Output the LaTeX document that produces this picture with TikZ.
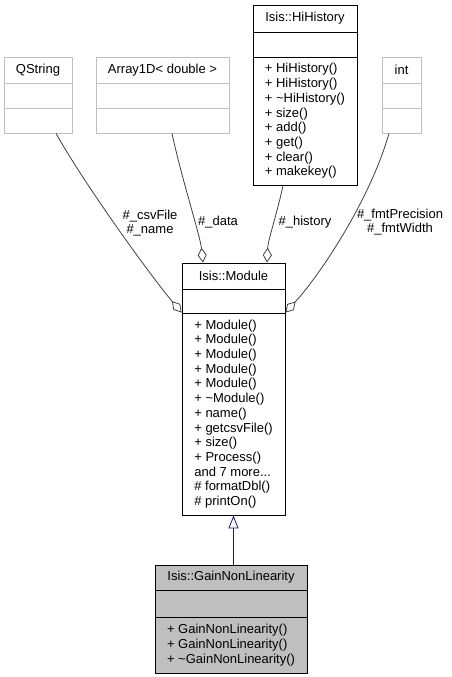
\documentclass[tikz,border=0pt]{standalone}
\usepackage{fontspec}
\setmainfont{Liberation Sans}
\usetikzlibrary{calc,positioning,arrows.meta}
\definecolor{edgegray}{HTML}{404040}
\definecolor{boxgray}{HTML}{BFBFBF}
\definecolor{inhblue}{HTML}{191970}
\begin{document}
\begin{tikzpicture}[x=1pt,y=-1pt]
\tikzstyle{part}=[draw, inner sep=0pt, line width=0.8pt, align=left, font=\fontsize{13}{14.7}\selectfont]
\tikzstyle{ext}=[part, draw=boxgray]
\tikzstyle{own}=[part, draw=black]
\tikzstyle{cur}=[part, draw=black, fill=boxgray]
\tikzstyle{aggr}=[edgegray, line width=0.8pt, -{Diamond[open,length=15pt,width=9pt]}]
\tikzstyle{lbl}=[inner sep=0pt, align=center, font=\fontsize{13}{14}\selectfont]
\useasboundingbox (0,0) rectangle (451,677);
% external classes
\node[ext, minimum width=68pt, minimum height=26pt] (qsT) at (38,70) {QString};
\node[ext, minimum width=68pt, minimum height=25pt] (qsA) at (38,95.5) {};
\node[ext, minimum width=68pt, minimum height=25pt] (qsM) at (38,120.5) {};
\node[ext, minimum width=133pt, minimum height=26pt] (arrT) at (162.5,70) {Array1D< double >};
\node[ext, minimum width=133pt, minimum height=25pt] (arrA) at (162.5,95.5) {};
\node[ext, minimum width=133pt, minimum height=25pt] (arrM) at (162.5,120.5) {};
\node[ext, minimum width=39pt, minimum height=26pt] (intT) at (401.5,70) {int};
\node[ext, minimum width=39pt, minimum height=25pt] (intA) at (401.5,95.5) {};
\node[ext, minimum width=39pt, minimum height=25pt] (intM) at (401.5,120.5) {};
% Isis::HiHistory
\node[own, minimum width=104pt, minimum height=27pt] (histT) at (305,18.5) {Isis::HiHistory};
\node[own, minimum width=104pt, minimum height=25pt] (histA) at (305,44.5) {};
\node[own, minimum width=104pt, minimum height=128pt] (histM) at (305,121) {+ HiHistory()\\+ HiHistory()\\+ \textasciitilde HiHistory()\\+ size()\\+ add()\\+ get()\\+ clear()\\+ makekey()};
% Isis::Module
\node[own, minimum width=103pt, minimum height=26pt] (modT) at (233.5,276) {Isis::Module};
\node[own, minimum width=103pt, minimum height=24pt] (modA) at (233.5,301) {};
\node[own, minimum width=103pt, minimum height=202pt] (modM) at (233.5,414) {+ Module()\\+ Module()\\+ Module()\\+ Module()\\+ Module()\\+ \textasciitilde Module()\\+ name()\\+ getcsvFile()\\+ size()\\+ Process()\\and 7 more...\\\# formatDbl()\\\# printOn()};
% Isis::GainNonLinearity
\node[cur, minimum width=152pt, minimum height=25pt] (gainT) at (231,577.5) {Isis::GainNonLinearity};
\node[cur, minimum width=152pt, minimum height=27pt] (gainA) at (231,603.5) {};
\node[cur, minimum width=152pt, minimum height=56pt] (gainM) at (231,645) {+ GainNonLinearity()\\+ GainNonLinearity()\\+ \textasciitilde GainNonLinearity()};
% members
\draw[aggr] ([xshift=18pt]qsM.south) .. controls (85,185) and (150,275) .. (modM.north west);
\draw[aggr] ([xshift=9.5pt]arrM.south) .. controls (182,180) and (200,235) .. ([xshift=-30.5pt]modT.north);
\draw[aggr] ([xshift=-22pt]histM.south) .. controls (278,210) and (268,240) .. ([xshift=33.5pt]modT.north);
\draw[aggr] ([xshift=-12.5pt]intM.south) .. controls (370,200) and (320,275) .. (modM.north east);
\node[lbl] (lcsv) at (150,223) {\#\_csvFile\\\#\_name};
\node[lbl] (ldata) at (218,222) {\#\_data};
\node[lbl] (lhist) at (305,222) {\#\_history};
\node[lbl] (lfmt) at (400,222) {\#\_fmtPrecision\\\#\_fmtWidth};
% inheritance
\draw[inhblue, line width=0.8pt, -{Triangle[open,length=13pt,width=10pt]}] (modM.south |- gainT.north) -- (modM.south);
\end{tikzpicture}
\end{document}
